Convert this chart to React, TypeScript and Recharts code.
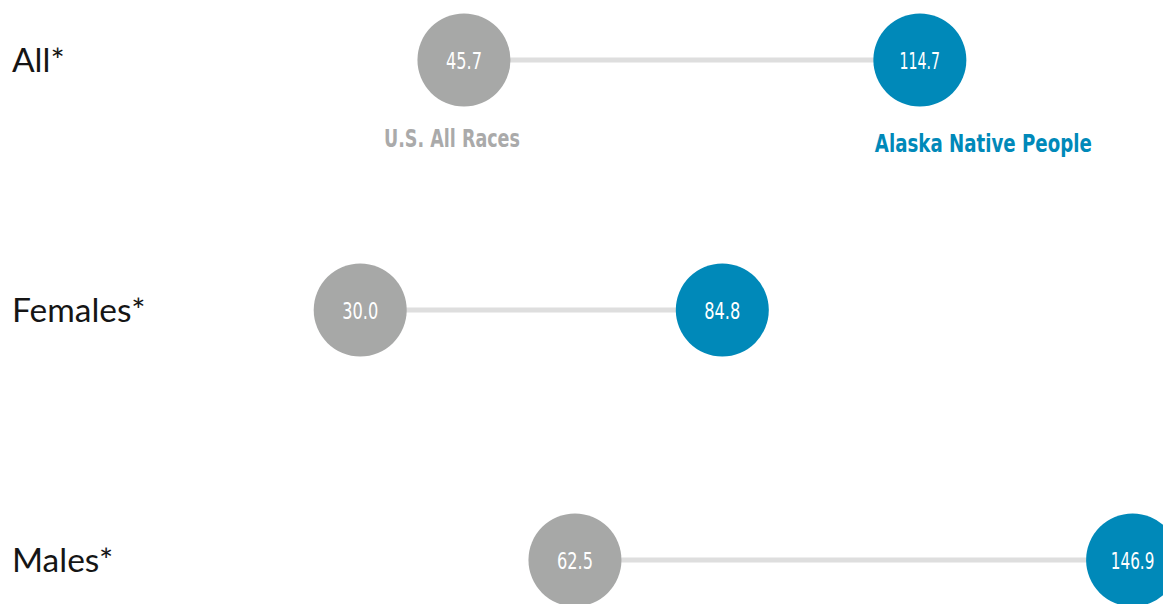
import { ScatterChart, Scatter, XAxis, YAxis, Cell } from 'recharts'

const groups = ['All*', 'Females*', 'Males*']
const usAllRaces = [45.7, 30.0, 62.5]
const alaskaNative = [114.7, 84.8, 146.9]
const seriesNames = ['U.S. All Races', 'Alaska Native People']

const GRAY = '#a7a8a7'
const BLUE = '#0089b9'
const COLORS = [GRAY, BLUE]
const NUM_FONT = '"DejaVu Sans Condensed", "DejaVu Sans", sans-serif'

const rows = groups.map((g, i) => ({
  group: g,
  points: [
    { x: usAllRaces[i], y: i, series: 0 },
    { x: alaskaNative[i], y: i, series: 1 },
  ],
}))

// rough width of the condensed figures used in the circles
const numWidth = (s: string) =>
  s.split('').reduce((w, c) => w + (c === '.' ? 4.5 : c === '1' ? 7.5 : 10.5), 0)

type DotProps = { cx?: number; cy?: number; payload?: { x: number; y: number; series: number } }

function Dot({ cx = 0, cy = 0, payload }: DotProps) {
  if (!payload) return null
  const color = COLORS[payload.series]
  const label = payload.x.toFixed(1)
  const isUs = payload.series === 0
  return (
    <g>
      <circle cx={cx} cy={cy} r={46.5} fill={color} />
      <text
        x={cx}
        y={cy + 8.5}
        textAnchor="middle"
        fill="#fff"
        fontFamily={NUM_FONT}
        fontSize={23}
        textLength={numWidth(label)}
        lengthAdjust="spacingAndGlyphs"
      >
        {label}
      </text>
      {payload.y === 0 && (
        <text
          x={isUs ? cx - 80 : cx - 45}
          y={isUs ? cy + 87 : cy + 92}
          textAnchor="start"
          fill={isUs ? '#aaaaaa' : BLUE}
          fontFamily={NUM_FONT}
          fontWeight="bold"
          fontSize={24}
          textLength={isUs ? 136 : 217}
          lengthAdjust="spacingAndGlyphs"
        >
          {seriesNames[payload.series]}
        </text>
      )}
    </g>
  )
}

function GroupTick({ y = 0, payload }: { y?: number; payload?: { value: number } }) {
  if (!payload) return null
  return (
    <text x={12} y={y + 12} textAnchor="start" fill="#151515" fontFamily="Lato, sans-serif" fontSize={33.5}>
      {groups[payload.value]}
    </text>
  )
}

export default function App() {
  return (
    <div style={{ position: 'absolute', left: 0, top: 0, width: 1163, height: 604, background: '#fff' }}>
      <ScatterChart width={1163} height={604} margin={{ top: 0, right: 0, bottom: 0, left: 0 }}>
        <XAxis type="number" dataKey="x" domain={[0, 151.5]} allowDataOverflow hide />
        <YAxis
          type="number"
          dataKey="y"
          domain={[-0.24, 2.176]}
          ticks={[0, 1, 2]}
          reversed
          width={162}
          axisLine={false}
          tickLine={false}
          tick={<GroupTick />}
        />
        {rows.map((row) => (
          <Scatter
            key={row.group}
            name={row.group}
            data={row.points}
            line={{ stroke: '#dedede', strokeWidth: 5 }}
            shape={<Dot />}
            isAnimationActive={false}
          >
            {row.points.map((p, j) => (
              <Cell key={j} fill={COLORS[p.series]} />
            ))}
          </Scatter>
        ))}
      </ScatterChart>
    </div>
  )
}
